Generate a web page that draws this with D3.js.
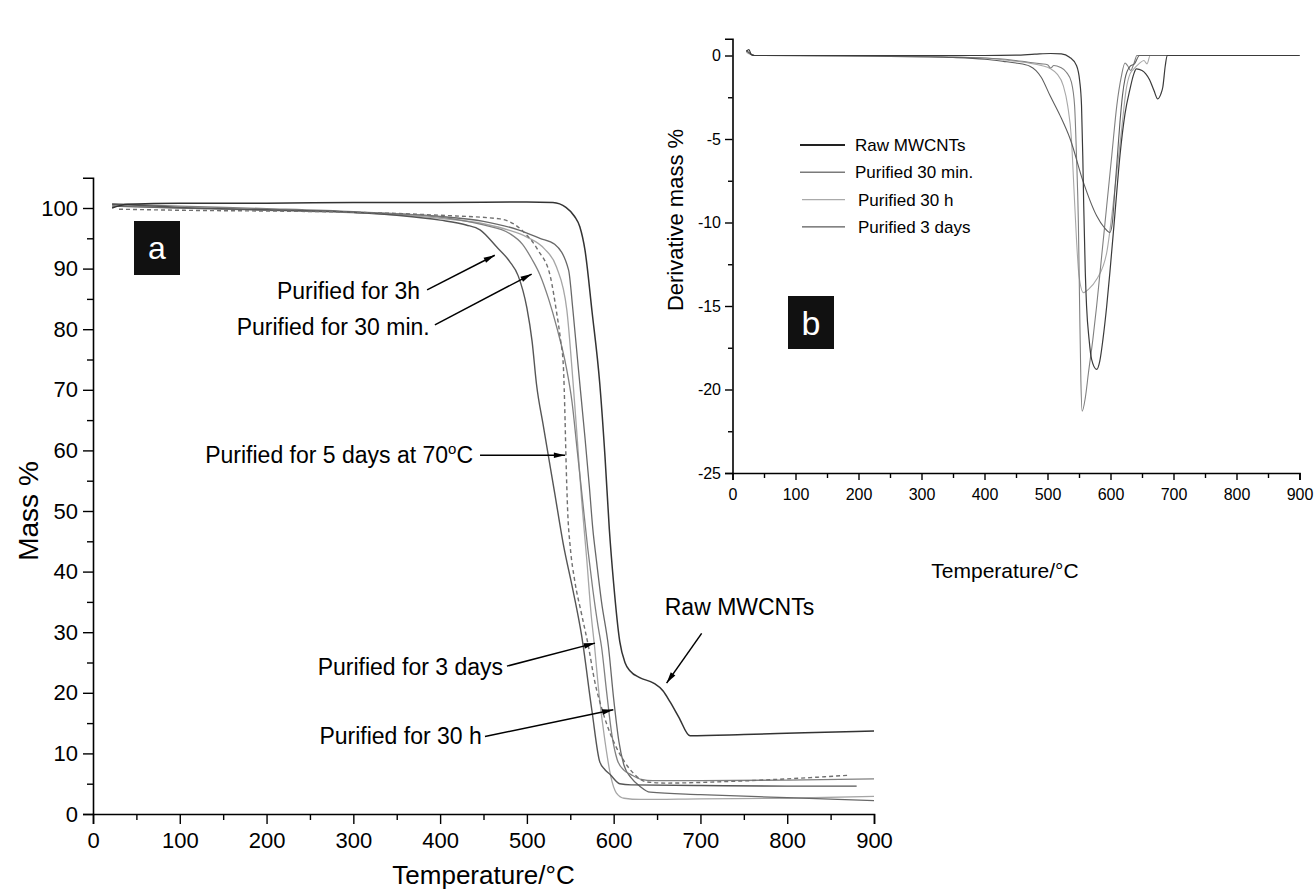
<!DOCTYPE html>
<html>
<head>
<meta charset="utf-8">
<script src="https://cdn.jsdelivr.net/npm/d3@7"></script>
<style>
  body { margin: 0; background: #fff; }
  svg { display: block; font-family: "Liberation Sans", Arial, Helvetica, sans-serif; }
</style>
</head>
<body>
<svg id="chart" width="1315" height="891"></svg>
<script>
// ---------- panel a: TGA curves, [temperature °C, mass %] ----------
const massRaw = [[22,100.0],[40,100.6],[100,100.8],[200,100.8],[300,100.9],[400,100.9],[500,101.0],[530,100.9],[545,100.1],[555,98.6],[561,96.9],[567,93],[575,83],[584,71],[590,59],[595,47],[600,38],[607,28.5],[613,25],[619,23.6],[630,22.5],[646,21.6],[657,20.3],[665,18.5],[675,16],[688,12.9],[750,13.1],[820,13.4],[900,13.7]];
const mass3h = [[22,100.6],[60,100.4],[100,100.1],[200,99.7],[300,99.3],[350,98.8],[400,98],[430,97.2],[446,96.4],[465,93.6],[480,91.2],[490,88.8],[500,83.5],[506,78],[511,71],[519,64],[532,53],[542,44.5],[553,37],[563,29.5],[575,17],[584,8.6],[590,7.3],[596,6.5],[607,5.0],[620,4.8],[700,4.7],[800,4.6],[880,4.6]];
const mass30min = [[22,100.7],[60,100.5],[100,100.3],[200,99.9],[300,99.4],[400,98.5],[450,97.2],[480,95.8],[495,94],[506,91.5],[515,89],[525,85],[535,80],[545,74],[552,68],[558,60],[564,52],[570,44],[576,37],[582,31],[586,27.6],[592,20],[598,13],[604,9],[612,7.2],[620,6.5],[632,5.7],[645,5.5],[700,5.5],[800,5.6],[900,5.8]];
const mass5days = [[30,99.8],[115,99.6],[200,99.5],[300,99.3],[400,98.8],[469,98.2],[496,96.1],[513,93],[527,88.7],[534,83],[539,78],[542,74],[544,65],[545,59],[547,50],[550,44],[555,38.6],[563,33],[571,27.6],[578,22],[588,16.6],[603,11],[613,8.5],[623,6.7],[638,5.3],[660,5.1],[720,5.3],[800,5.8],[872,6.4]];
const mass3days = [[22,100.4],[100,100.0],[200,99.6],[300,99.2],[400,98.3],[450,97.4],[480,96.3],[500,95.2],[520,93.3],[534,90.3],[546,83.2],[553,71.6],[558,62],[563,52],[569,42],[574,33],[578,27.6],[583,20],[590,12],[597,6],[603,3.5],[612,2.6],[631,2.4],[700,2.5],[800,2.6],[900,2.9]];
const mass30h = [[22,100.3],[100,100.0],[200,99.7],[300,99.3],[400,98.6],[450,97.8],[490,96.4],[515,95],[532,94],[548,89.8],[553,83.2],[559,74],[563,68],[567,62],[572,54],[576,47],[580,42],[586,35],[594,27.6],[600,19],[606,12],[612,8],[620,6],[630,4.6],[642,3.6],[700,3.2],[800,2.7],[900,2.2]];

// annotation labels, text anchor point, arrow start and arrow tip (data units)
const annoLabels = ['Purified for 3h', 'Purified for 30 min.', 'Purified for 5 days at 70', 'Purified for 3 days', 'Purified for 30 h', 'Raw MWCNTs'];
const annoTextAt = [[377, 86.3], [388, 80.4], [438, 59.2], [472.5, 24.3], [448, 12.8], [745, 34.2]];
const annoFrom = [[385, 86.5], [394, 80.7], [446, 59.2], [477, 24.4], [451.7, 12.8], [701.4, 29.8]];
const annoTo = [[463, 92.2], [505.5, 89.1], [544, 59.2], [578.5, 28.2], [599.6, 17.2], [661, 21.6]];

// ---------- panel b: derivative curves, [temperature °C, derivative mass %] ----------
const dtgRaw = [[22,0.25],[26,0.35],[30,0.05],[35,0],[100,0],[200,0],[300,0],[400,0],[450,0.02],[480,0.08],[505,0.12],[522,0.1],[535,-0.1],[546,-0.6],[551,-1.5],[554,-3],[556,-6],[557.5,-9],[560,-13],[562,-15],[566,-17],[570,-18.2],[578,-18.8],[583,-18.3],[588,-17],[594,-15],[599,-13],[607,-9.5],[615,-6],[623,-3.5],[631,-2],[637,-1.1],[641,-0.8],[650,-0.9],[656,-1.1],[662,-1.45],[669,-2.1],[675,-2.6],[680,-2.3],[683,-1.9],[687,-0.6],[690,0],[750,0],[800,0],[900,0]];
const dtg30min = [[22,0.3],[28,0.1],[35,0],[100,0],[200,-0.02],[300,-0.05],[350,-0.1],[400,-0.15],[440,-0.25],[470,-0.4],[490,-0.5],[500,-0.55],[505,-0.75],[510,-0.6],[520,-0.7],[530,-1.0],[538,-1.6],[543,-3],[546,-6],[549,-10],[551,-15],[553,-19.5],[555,-21.3],[560,-20.5],[565,-19],[572,-17],[578,-15],[586,-12],[594,-9],[602,-6],[610,-3],[617,-1.3],[623,-0.45],[627,-0.6],[632,-0.9],[637,-0.5],[642,0],[900,0]];
const dtg30h = [[22,0.2],[35,0],[200,-0.02],[300,-0.05],[400,-0.15],[440,-0.3],[470,-0.45],[490,-0.6],[505,-0.8],[515,-1.1],[525,-1.8],[532,-3],[538,-5],[542,-8],[546,-11],[550,-13.2],[557,-14.2],[565,-14],[578,-13.4],[594,-11.8],[602,-9.6],[610,-7],[618,-4.3],[625,-2],[631,-1.1],[636,-0.85],[645,-0.5],[653,-0.3],[658,-0.5],[663,0],[900,0]];
const dtg3days = [[22,0.3],[35,0],[200,-0.03],[300,-0.08],[350,-0.12],[400,-0.22],[430,-0.35],[450,-0.45],[472,-0.64],[490,-1.3],[504,-2.4],[520,-3.6],[536,-5.0],[557,-7.6],[578,-9.6],[590,-10.3],[599,-10.6],[603,-10],[607,-8],[611,-6],[615,-4],[619,-2.4],[623,-1.4],[631,-0.65],[638,-0.5],[646,0],[900,0]];

const legendNames = ['Raw MWCNTs', 'Purified 30 min.', 'Purified 30 h', 'Purified 3 days'];

const xTicks = d3.range(0, 901, 100);
const massTicks = d3.range(0, 101, 10);
const dtgTicks = d3.range(-25, 1, 5);

const svg = d3.select('#chart');

// arrow head used by the annotations
svg.append('defs').append('marker')
    .attr('id', 'arrow')
    .attr('markerUnits', 'userSpaceOnUse')
    .attr('viewBox', '0 -5 14 10')
    .attr('refX', 14).attr('refY', 0)
    .attr('markerWidth', 14).attr('markerHeight', 8)
    .attr('orient', 'auto')
    .append('path')
    .attr('d', 'M0,-3.5L14,0L0,3.5Z')
    .attr('fill', '#000');

function styleAxis(g, size) {
    g.selectAll('path.domain').attr('stroke', '#000').attr('stroke-width', 1.6);
    g.selectAll('.tick line').attr('stroke', '#000').attr('stroke-width', 1.4);
    g.selectAll('.tick text')
        .attr('fill', '#000')
        .attr('font-size', size)
        .attr('font-family', '"Liberation Sans", Arial, sans-serif');
}

// plain hyphen for negative numbers, like the original figure
const plain = d => String(d);

// ================= main panel =================
const x = d3.scaleLinear().domain([0, 900]).range([93, 874]);
const y = d3.scaleLinear().domain([0, 105]).range([814, 814 - 105 * 6.06]);

const gx = svg.append('g').attr('transform', `translate(0,${y(0)})`);
gx.call(d3.axisBottom(x).tickValues(xTicks).tickSize(10).tickPadding(8).tickFormat(plain));
gx.append('g').call(d3.axisBottom(x).tickValues(d3.range(50, 900, 100)).tickSize(6).tickFormat(''))
    .select('.domain').remove();
styleAxis(gx, 22);

const gy = svg.append('g').attr('transform', `translate(${x(0)},0)`);
gy.call(d3.axisLeft(y).tickValues(massTicks).tickSize(10).tickPadding(5).tickFormat(plain));
gy.append('g').call(d3.axisLeft(y).tickValues(d3.range(5, 105, 10)).tickSize(6).tickFormat(''))
    .select('.domain').remove();
styleAxis(gy, 22);

svg.append('text')
    .attr('x', (x(0) + x(900)) / 2).attr('y', 884)
    .attr('text-anchor', 'middle').attr('font-size', 26)
    .text('Temperature/°C');

svg.append('text')
    .attr('transform', `translate(38,${y(50)}) rotate(-90)`)
    .attr('text-anchor', 'middle').attr('font-size', 28)
    .text('Mass %');

const line = d3.line()
    .x(d => x(d[0]))
    .y(d => y(d[1]))
    .curve(d3.curveMonotoneX);

const mainSeries = [
    { data: mass3days, color: '#a6a6a6', width: 1.3 },
    { data: mass30h, color: '#686868', width: 1.3 },
    { data: mass30min, color: '#808080', width: 1.3 },
    { data: mass3h, color: '#555', width: 1.4 },
    { data: mass5days, color: '#707070', width: 1.4, dash: '4,3' },
    { data: massRaw, color: '#333', width: 1.5 }
];

mainSeries.forEach(s => {
    svg.append('path')
        .datum(s.data)
        .attr('fill', 'none')
        .attr('stroke', s.color)
        .attr('stroke-width', s.width)
        .attr('stroke-dasharray', s.dash || null)
        .attr('d', line);
});

// annotations with arrows
annoLabels.forEach((label, i) => {
    const t = svg.append('text')
        .attr('x', x(annoTextAt[i][0]))
        .attr('y', y(annoTextAt[i][1]))
        .attr('dy', '0.35em')
        .attr('font-size', 23)
        .attr('text-anchor', i === 5 ? 'middle' : 'end')
        .text(label);
    if (i === 2) {
        t.append('tspan').attr('font-size', 15).attr('dy', '-0.6em').text('o');
        t.append('tspan').attr('dy', '0.4em').text('C');
    }
    svg.append('line')
        .attr('x1', x(annoFrom[i][0])).attr('y1', y(annoFrom[i][1]))
        .attr('x2', x(annoTo[i][0])).attr('y2', y(annoTo[i][1]))
        .attr('stroke', '#000').attr('stroke-width', 1.5)
        .attr('marker-end', 'url(#arrow)');
});

// panel label a
svg.append('rect').attr('x', 134).attr('y', 221).attr('width', 46).attr('height', 54).attr('fill', '#111');
svg.append('text').attr('x', 157).attr('y', 259).attr('text-anchor', 'middle')
    .attr('font-size', 32).attr('fill', '#fff').text('a');

// ================= inset panel =================
const xi = d3.scaleLinear().domain([0, 900]).range([732.5, 1299.5]);
const yi = d3.scaleLinear().domain([-25, 1]).range([473, 473 - 26 * 16.7]);

const gxi = svg.append('g').attr('transform', `translate(0,${yi(-25)})`);
gxi.call(d3.axisBottom(xi).tickValues(xTicks).tickSize(7).tickPadding(9).tickFormat(plain));
gxi.append('g').call(d3.axisBottom(xi).tickValues(d3.range(50, 900, 100)).tickSize(5).tickFormat(''))
    .select('.domain').remove();
styleAxis(gxi, 16);

const gyi = svg.append('g').attr('transform', `translate(${xi(0)},0)`);
gyi.call(d3.axisLeft(yi).tickValues(dtgTicks).tickSize(7.5).tickPadding(4).tickFormat(plain));
gyi.append('g').call(d3.axisLeft(yi).tickValues(d3.range(-22.5, 0, 5)).tickSize(4.5).tickFormat(''))
    .select('.domain').remove();
styleAxis(gyi, 16);

svg.append('text')
    .attr('x', 1005).attr('y', 578)
    .attr('text-anchor', 'middle').attr('font-size', 21)
    .text('Temperature/°C');

svg.append('text')
    .attr('transform', `translate(683,220) rotate(-90)`)
    .attr('text-anchor', 'middle').attr('font-size', 22)
    .text('Derivative mass %');

const lineIn = d3.line()
    .x(d => xi(d[0]))
    .y(d => yi(d[1]))
    .curve(d3.curveMonotoneX);

const insetSeries = [
    { data: dtg30h, color: '#a8a8a8', width: 1.1 },
    { data: dtg30min, color: '#808080', width: 1.1 },
    { data: dtg3days, color: '#5e5e5e', width: 1.1 },
    { data: dtgRaw, color: '#3a3a3a', width: 1.2 }
];

insetSeries.forEach(s => {
    svg.append('path')
        .datum(s.data)
        .attr('fill', 'none')
        .attr('stroke', s.color)
        .attr('stroke-width', s.width)
        .attr('d', lineIn);
});

// legend of the inset
const legendColors = ['#222', '#7a7a7a', '#aaa', '#5a5a5a'];
const legendWidths = [2, 1.4, 1.4, 1.4];
legendNames.forEach((name, i) => {
    const ly = 145 + i * 27.3;
    const lx = i < 2 ? 800 : 802;
    svg.append('line')
        .attr('x1', lx).attr('x2', 845).attr('y1', ly).attr('y2', ly)
        .attr('stroke', legendColors[i]).attr('stroke-width', legendWidths[i]);
    svg.append('text')
        .attr('x', i < 2 ? 855 : 858).attr('y', ly).attr('dy', '0.35em')
        .attr('font-size', 17).text(name);
});

// panel label b
svg.append('rect').attr('x', 788).attr('y', 296).attr('width', 46).attr('height', 53).attr('fill', '#111');
svg.append('text').attr('x', 811).attr('y', 335).attr('text-anchor', 'middle')
    .attr('font-size', 34).attr('fill', '#fff').text('b');
</script>
</body>
</html>
